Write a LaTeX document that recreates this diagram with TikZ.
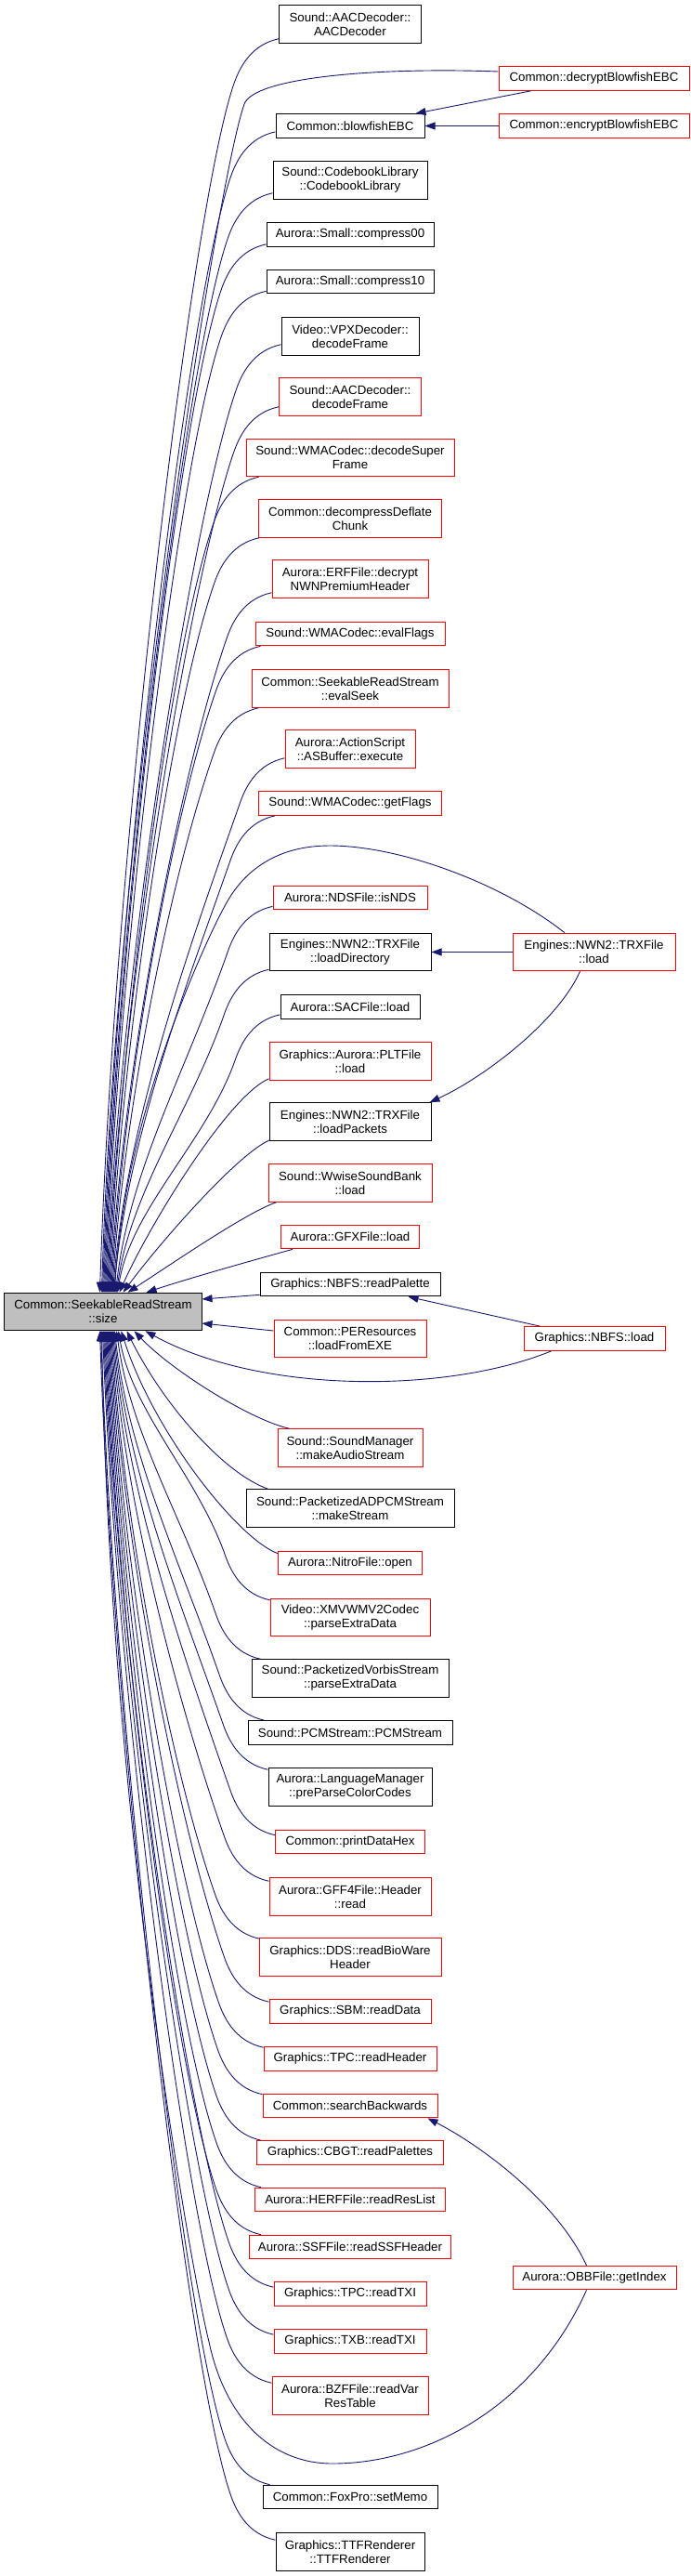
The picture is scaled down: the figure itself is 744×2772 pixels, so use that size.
\documentclass[tikz,border=0pt]{standalone}
\usepackage{fontspec}
\setmainfont{Liberation Sans}
\usetikzlibrary{arrows.meta,calc}
\definecolor{edgecol}{HTML}{191970}
\definecolor{sizefill}{HTML}{BFBFBF}
\newcommand\nodefont{\fontsize{13.3bp}{15bp}\selectfont}
% upper edge: #1 node, #2 dx, #3 dy (from south west, y down), #4 start y, #5 target x
\newcommand\UpE[5]{%
\pgfmathsetmacro\eD{1391-(#4+48)}%
\pgfmathsetmacro\eL{min(130,0.35*\eD)}%
\pgfmathsetmacro\ecx{#2-48-0.35*\eL}%
\pgfmathsetmacro\ecy{#3+48+\eL}%
\pgfmathsetmacro\etx{#5-5}%
\pgfmathsetmacro\edx{#5+10}%
\pgfmathsetmacro\edy{-0.36*\eD}%
\draw[callarrow] ($(#1.south west)+(#2,#3)$) .. controls ($(#1.south west)+(#2-28,#3+6)$) and ($(#1.south west)+(#2-41,#3+28)$) .. ($(#1.south west)+(#2-48,#3+48)$) .. controls ($(#1.south west)+(\ecx,\ecy)$) and ($(size.north west)+(\edx,\edy)$) .. ($(size.north west)+(\etx,0)$);}
% lower edge: #1 node, #2 dx, #3 dy (from north west, y down), #4 start y, #5 target x
\newcommand\DnE[5]{%
\pgfmathsetmacro\eD{(#4-48)-1432}%
\pgfmathsetmacro\eL{min(130,0.35*\eD)}%
\pgfmathsetmacro\ecx{#2-48-0.35*\eL}%
\pgfmathsetmacro\ecy{#3-48-\eL}%
\pgfmathsetmacro\etx{#5-5}%
\pgfmathsetmacro\edx{#5+10}%
\pgfmathsetmacro\edy{0.36*\eD}%
\draw[callarrow] ($(#1.north west)+(#2,#3)$) .. controls ($(#1.north west)+(#2-28,#3-6)$) and ($(#1.north west)+(#2-41,#3-28)$) .. ($(#1.north west)+(#2-48,#3-48)$) .. controls ($(#1.north west)+(\ecx,\ecy)$) and ($(size.south west)+(\edx,\edy)$) .. ($(size.south west)+(\etx,0)$);}
\tikzset{
 bx/.style={draw=black, line width=1bp, fill=white, inner sep=0pt, align=center, font=\nodefont, minimum height=25.7bp},
 rbx/.style={bx, draw=red},
 two/.style={minimum height=40.5bp},
 callarrow/.style={draw=edgecol, line width=0.9bp, -{Triangle[length=11bp,width=8bp]}},
}
\begin{document}
\begin{tikzpicture}[x=1bp,y=-1bp]
\fill[white] (0,0) rectangle (744,2772);
\useasboundingbox (0,0) rectangle (744,2772);
% nodes
\node[bx,two,minimum width=153bp] (aac1) at (377,26) {Sound::AACDecoder::\\AACDecoder};
\node[rbx,minimum width=205bp] (decrypt) at (639.5,84.5) {Common::decryptBlowfishEBC};
\node[bx,minimum width=160bp] (blowfish) at (377,135.5) {Common::blowfishEBC};
\node[rbx,minimum width=205bp] (encrypt) at (639.5,135.5) {Common::encryptBlowfishEBC};
\node[bx,two,minimum width=166bp] (codebook) at (377,194) {Sound::CodebookLibrary\\::CodebookLibrary};
\node[bx,minimum width=180bp] (compress00) at (377,252.5) {Aurora::Small::compress00};
\node[bx,minimum width=180bp] (compress10) at (377,303) {Aurora::Small::compress10};
\node[bx,two,minimum width=148bp] (vpx) at (377,362) {Video::VPXDecoder::\\decodeFrame};
\node[rbx,two,minimum width=153bp] (aacdf) at (377,427) {Sound::AACDecoder::\\decodeFrame};
\node[rbx,two,minimum width=224bp] (wmasuper) at (377,492.5) {Sound::WMACodec::decodeSuper\\Frame};
\node[rbx,two,minimum width=197bp] (deflate) at (377,558) {Common::decompressDeflate\\Chunk};
\node[rbx,two,minimum width=168bp] (erf) at (377,623) {Aurora::ERFFile::decrypt\\NWNPremiumHeader};
\node[rbx,minimum width=204bp] (evalflags) at (377,682) {Sound::WMACodec::evalFlags};
\node[rbx,two,minimum width=212bp] (evalseek) at (377,741) {Common::SeekableReadStream\\::evalSeek};
\node[rbx,two,minimum width=140bp] (asbuffer) at (377,806) {Aurora::ActionScript\\::ASBuffer::execute};
\node[rbx,minimum width=197bp] (getflags) at (377,864.5) {Sound::WMACodec::getFlags};
\node[rbx,minimum width=166bp] (isnds) at (377,966) {Aurora::NDSFile::isNDS};
\node[bx,two,minimum width=174bp] (loaddir) at (377,1024.5) {Engines::NWN2::TRXFile\\::loadDirectory};
\node[rbx,two,minimum width=175bp] (trxload) at (639.5,1024.5) {Engines::NWN2::TRXFile\\::load};
\node[bx,minimum width=150bp] (sac) at (377,1083.5) {Aurora::SACFile::load};
\node[rbx,two,minimum width=174bp] (plt) at (377,1142) {Graphics::Aurora::PLTFile\\::load};
\node[bx,two,minimum width=174bp] (loadpackets) at (377,1207) {Engines::NWN2::TRXFile\\::loadPackets};
\node[rbx,two,minimum width=176bp] (wwise) at (377,1273) {Sound::WwiseSoundBank\\::load};
\node[rbx,minimum width=149bp] (gfx) at (377,1331) {Aurora::GFXFile::load};
\node[bx,minimum width=194bp] (readpalette) at (377,1382) {Graphics::NBFS::readPalette};
\node[bx,two,minimum width=212bp,fill=sizefill] (size) at (111,1411.5) {Common::SeekableReadStream\\::size};
\node[rbx,two,minimum width=164bp] (peres) at (377,1440.5) {Common::PEResources\\::loadFromEXE};
\node[rbx,minimum width=152bp] (nbfsload) at (640,1440.5) {Graphics::NBFS::load};
\node[rbx,two,minimum width=156bp] (makeaudio) at (377,1558) {Sound::SoundManager\\::makeAudioStream};
\node[bx,two,minimum width=224bp] (adpcm) at (377,1623) {Sound::PacketizedADPCMStream\\::makeStream};
\node[rbx,minimum width=155bp] (nitro) at (377,1682) {Aurora::NitroFile::open};
\node[rbx,two,minimum width=172bp] (xmv) at (377,1740.5) {Video::XMVWMV2Codec\\::parseExtraData};
\node[bx,two,minimum width=212bp] (vorbis) at (377,1806) {Sound::PacketizedVorbisStream\\::parseExtraData};
\node[bx,minimum width=220bp] (pcm) at (377,1864.5) {Sound::PCMStream::PCMStream};
\node[bx,two,minimum width=176bp] (langmgr) at (377,1923) {Aurora::LanguageManager\\::preParseColorCodes};
\node[rbx,minimum width=161bp] (printhex) at (377,1982) {Common::printDataHex};
\node[rbx,two,minimum width=174bp] (gff4) at (377,2041) {Aurora::GFF4File::Header\\::read};
\node[rbx,two,minimum width=196bp] (dds) at (377,2106) {Graphics::DDS::readBioWare\\Header};
\node[rbx,minimum width=174bp] (sbm) at (377,2164.5) {Graphics::SBM::readData};
\node[rbx,minimum width=186bp] (tpchdr) at (377,2215.5) {Graphics::TPC::readHeader};
\node[rbx,minimum width=188bp] (searchback) at (377,2266) {Common::searchBackwards};
\node[rbx,minimum width=201bp] (cbgt) at (377,2316.5) {Graphics::CBGT::readPalettes};
\node[rbx,minimum width=205bp] (herf) at (377,2367) {Aurora::HERFFile::readResList};
\node[rbx,minimum width=217bp] (ssf) at (377,2418) {Aurora::SSFFile::readSSFHeader};
\node[rbx,minimum width=176bp] (obb) at (640,2451) {Aurora::OBBFile::getIndex};
\node[rbx,minimum width=164bp] (tpctxi) at (377,2468.5) {Graphics::TPC::readTXI};
\node[rbx,minimum width=164bp] (txbtxi) at (377,2519.5) {Graphics::TXB::readTXI};
\node[rbx,two,minimum width=168bp] (bzf) at (377,2578) {Aurora::BZFFile::readVar\\ResTable};
\node[bx,minimum width=188bp] (foxpro) at (377,2687) {Common::FoxPro::setMemo};
\node[bx,two,minimum width=160bp] (ttf) at (377,2746) {Graphics::TTFRenderer\\::TTFRenderer};
% upper edges into size
\UpE{aac1}{0}{-5}{41}{108}
\draw[callarrow] ($(decrypt.west)+(0,-7.5)$) .. controls (400,72) and (273,84) .. (263,112) .. controls (232,200) and (124,905) .. ($(size.north west)+(105,0)$);
\UpE{blowfish}{0}{-7}{141}{111}
\UpE{codebook}{0}{-7}{207}{112}
\UpE{compress00}{0}{-3}{263}{113}
\UpE{compress10}{0}{-3}{313}{114}
\UpE{vpx}{0}{-12}{370}{115}
\UpE{aacdf}{0}{-10}{437}{116}
\UpE{wmasuper}{14}{0}{513}{117}
\UpE{deflate}{1}{0}{578}{118}
\UpE{erf}{0}{-6}{637}{119}
\UpE{evalflags}{6}{0}{695}{120}
\UpE{evalseek}{8}{0}{761}{121}
\UpE{asbuffer}{0}{-11}{815}{122}
\UpE{getflags}{18}{0}{877}{123}
\draw[callarrow] ($(trxload.north)+(-31.5,0)$) .. controls (540,950) and (430,910) .. (355,910) .. controls (300,910) and (263,935) .. (242,975) .. controls (221,1013) and (134,1200) .. ($(size.north west)+(119,0)$);
\UpE{isnds}{0}{-4}{975}{125}
\UpE{loaddir}{0}{-2}{1043}{126}
\UpE{sac}{0}{-5}{1091}{127}
\draw[callarrow] ($(plt.south west)+(0,-2)$) .. controls (245,1180) and (160,1320) .. ($(size.north west)+(124,0)$);
\draw[callarrow] ($(loadpackets.south west)+(1,-1)$) .. controls (255,1242) and (170,1340) .. ($(size.north west)+(128,0)$);
\draw[callarrow] ($(wwise.south west)+(9,0)$) .. controls (265,1305) and (185,1360) .. ($(size.north west)+(133,0)$);
\draw[callarrow] ($(gfx.south west)+(13,0)$) .. controls (280,1354) and (205,1375) .. ($(size.north west)+(153,0)$);
% side edges
\draw[callarrow] ($(readpalette.south west)+(0,-2)$) -- ($(size.east)+(0,-13.5)$);
\draw[callarrow] ($(peres.west)+(0,-8.5)$) -- ($(size.east)+(0,12.5)$);
% lower edges
\draw[callarrow] ($(nbfsload.south west)+(30,0)$) .. controls (480,1500) and (280,1500) .. ($(size.south west)+(152,0)$);
\draw[callarrow] ($(makeaudio.north west)+(13,0)$) .. controls (270,1528) and (185,1475) .. ($(size.south west)+(140,0)$);
\draw[callarrow] ($(adpcm.north west)+(24,0)$) .. controls (240,1585) and (175,1510) .. ($(size.south west)+(132,0)$);
\draw[callarrow] ($(nitro.north west)+(0,3)$) .. controls (255,1655) and (165,1540) .. ($(size.south west)+(126,0)$);
\DnE{xmv}{0}{2}{1722}{128}
\DnE{vorbis}{10}{0}{1786}{126}
\DnE{pcm}{18}{0}{1852}{124}
\DnE{langmgr}{0}{2}{1905}{123}
\DnE{printhex}{0}{6}{1975}{122}
\DnE{gff4}{0}{4}{2025}{121}
\DnE{dds}{1}{1}{2087}{120}
\DnE{sbm}{0}{3}{2155}{119}
\DnE{tpchdr}{0}{1}{2204}{118}
\DnE{searchback}{0}{1}{2254}{117}
\DnE{cbgt}{5}{0}{2304}{116}
\DnE{herf}{7}{0}{2354}{115}
\DnE{ssf}{13}{0}{2405}{114}
\DnE{tpctxi}{0}{6}{2462}{113}
\DnE{txbtxi}{0}{6}{2513}{112}
\DnE{bzf}{0}{7}{2565}{111}
\draw[callarrow] ($(obb.south west)+(80,0)$) .. controls (575,2590) and (460,2651) .. (358,2651) .. controls (290,2651) and (242,2600) .. (225,2520) .. controls (205,2440) and (118,1950) .. ($(size.south west)+(105,0)$);
\DnE{foxpro}{8}{0}{2674}{109}
\DnE{ttf}{0}{8}{2734}{108}
% right-column edges
\draw[callarrow] ($(decrypt.south west)+(35,0)$) -- ($(blowfish.north east)+(-10,0)$);
\draw[callarrow] (encrypt.west) -- (blowfish.east);
\draw[callarrow] (trxload.west) -- (loaddir.east);
\draw[callarrow] ($(trxload.south)+(-15,0)$) .. controls (600,1100) and (520,1160) .. ($(loadpackets.north east)+(-2,0)$);
\draw[callarrow] ($(nbfsload.north west)+(18,0)$) -- ($(readpalette.south east)+(-35,0)$);
\draw[callarrow] ($(obb.north west)+(80,0)$) .. controls (600,2370) and (520,2310) .. ($(searchback.south east)+(-11,0)$);
\end{tikzpicture}
\end{document}
